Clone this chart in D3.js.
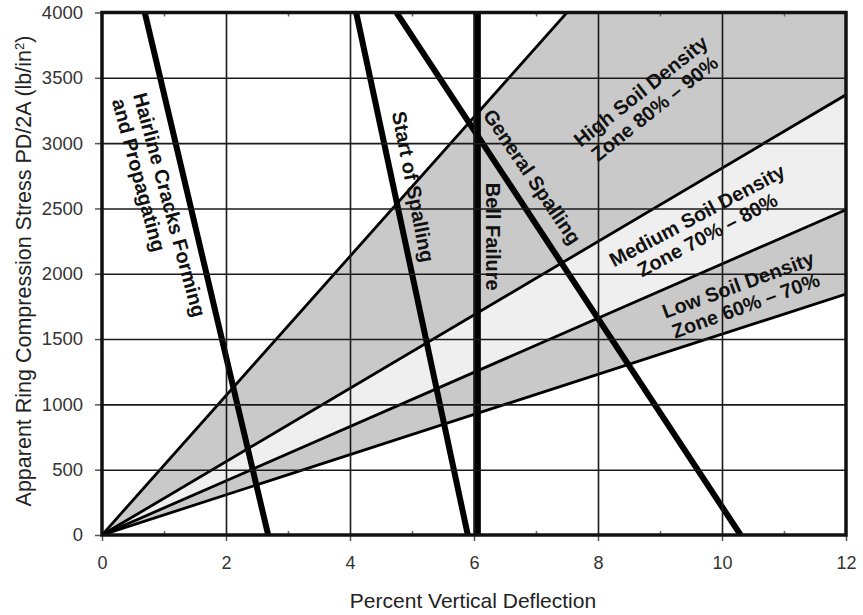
<!DOCTYPE html>
<html>
<head>
<meta charset="utf-8">
<script src="https://cdn.jsdelivr.net/npm/d3@7"></script>
<style>
  body { margin: 0; background: #fff; }
  svg text { font-family: "Liberation Sans", Arial, sans-serif; }
</style>
</head>
<body>
<svg id="chart" width="863" height="615"></svg>
<script>
// axis ticks
var xTicks = [0, 2, 4, 6, 8, 10, 12]
var xMinor = [1, 3, 5, 7, 9, 11]
var yTicks = [0, 500, 1000, 1500, 2000, 2500, 3000, 3500, 4000]

// soil density boundaries: lines from origin, value at 12% deflection
var densityX = [0, 12]
var density90 = [0, 6400]
var density80 = [0, 3370]
var density70 = [0, 2490]
var density60 = [0, 1845]

// failure lines [x, y] end points
var hairline = [[0.69, 4000], [2.68, 0]]
var startSpalling = [[4.1, 4000], [5.9, 0]]
var bellFailure = [[6.05, 4000], [6.05, 0]]
var generalSpalling = [[4.75, 4000], [10.3, 0]]

var svg = d3.select("#chart")

const x = d3.scaleLinear().domain([0, 12]).range([102, 846])
const y = d3.scaleLinear().domain([0, 4000]).range([535, 12.5])

svg.append("defs").append("clipPath").attr("id", "plot")
    .append("rect")
    .attr("x", x(0)).attr("y", y(4000))
    .attr("width", x(12) - x(0)).attr("height", y(0) - y(4000))

const plot = svg.append("g").attr("clip-path", "url(#plot)")

// ZONES
function band(upper, lower) {
    var pts = densityX.map((d, i) => [x(d), y(upper[i])])
    var low = densityX.map((d, i) => [x(d), y(lower[i])]).reverse()
    return pts.concat(low)
}
var zones = [
    { upper: density90, lower: density80, fill: "#c9c9c9" },
    { upper: density80, lower: density70, fill: "#efefef" },
    { upper: density70, lower: density60, fill: "#c9c9c9" }
]
plot.selectAll(".zone")
    .data(zones)
    .enter().append("polygon")
    .attr("points", d => band(d.upper, d.lower).join(" "))
    .style("fill", d => d.fill)

// GRID
svg.append("g")
    .attr("transform", "translate(0," + y(0) + ")")
    .call(d3.axisBottom(x).tickValues(xTicks.slice(1, -1)).tickSize(-(y(0) - y(4000))).tickFormat(""))
    .call(g => g.select(".domain").remove())
    .call(g => g.selectAll("line").attr("stroke", "#1a1a1a").attr("stroke-width", 1.6))

svg.append("g")
    .attr("transform", "translate(" + x(0) + ",0)")
    .call(d3.axisLeft(y).tickValues(yTicks.slice(1, -1)).tickSize(-(x(12) - x(0))).tickFormat(""))
    .call(g => g.select(".domain").remove())
    .call(g => g.selectAll("line").attr("stroke", "#1a1a1a").attr("stroke-width", 1.6))

// density boundary lines
var line = d3.line().x(d => x(d[0])).y(d => y(d[1]))
;[density90, density80, density70, density60].forEach(function (vals) {
    plot.append("path")
        .attr("d", line(densityX.map((d, i) => [d, vals[i]])))
        .attr("fill", "none")
        .attr("stroke", "#000")
        .attr("stroke-width", 2.8)
})

// failure lines
;[hairline, startSpalling, generalSpalling].forEach(function (pts) {
    plot.append("path")
        .attr("d", line(pts))
        .attr("fill", "none")
        .attr("stroke", "#000")
        .attr("stroke-width", 6)
})
plot.append("path")
    .attr("d", line(bellFailure))
    .attr("stroke", "#000")
    .attr("stroke-width", 7.5)

// AXES
var xAxis = svg.append("g")
    .attr("transform", "translate(0," + y(0) + ")")
    .call(d3.axisBottom(x).tickValues(xTicks).tickSize(6).tickPadding(15).tickFormat(d3.format("d")))
xAxis.select(".domain").remove()
xAxis.selectAll("line").attr("stroke", "#555").attr("stroke-width", 1.5)
xAxis.selectAll("text").attr("fill", "#333").style("font-size", "18px")

var yAxis = svg.append("g")
    .attr("transform", "translate(" + x(0) + ",0)")
    .call(d3.axisLeft(y).tickValues(yTicks).tickSize(7).tickPadding(12).tickFormat(d3.format("d")))
yAxis.select(".domain").remove()
yAxis.selectAll("line").attr("stroke", "#555").attr("stroke-width", 1.5)
yAxis.selectAll("text").attr("fill", "#333").style("font-size", "18.5px")

// minor ticks, pointing inward
svg.append("g")
    .attr("transform", "translate(0," + y(0) + ")")
    .call(d3.axisTop(x).tickValues(xMinor).tickSize(4).tickFormat(""))
    .call(g => g.select(".domain").remove())
    .call(g => g.selectAll("line").attr("stroke", "#666").attr("stroke-width", 1.5))
svg.append("g")
    .attr("transform", "translate(0," + y(4000) + ")")
    .call(d3.axisBottom(x).tickValues(xMinor).tickSize(4).tickFormat(""))
    .call(g => g.select(".domain").remove())
    .call(g => g.selectAll("line").attr("stroke", "#666").attr("stroke-width", 1.5))

// frame
svg.append("rect")
    .attr("x", x(0)).attr("y", y(4000))
    .attr("width", x(12) - x(0)).attr("height", y(0) - y(4000))
    .attr("fill", "none")
    .attr("stroke", "#111")
    .attr("stroke-width", 3.5)

// AXIS TITLES
svg.append("text")
    .attr("x", x(6) - 1).attr("y", 608)
    .attr("text-anchor", "middle")
    .style("font-size", "21px")
    .attr("fill", "#222")
    .text("Percent Vertical Deflection")

var yTitle = svg.append("text")
    .attr("transform", "translate(31," + 271 + ") rotate(-90)")
    .attr("text-anchor", "middle")
    .style("font-size", "21.5px")
    .attr("fill", "#222")
yTitle.append("tspan").text("Apparent Ring Compression Stress PD/2A (lb/in")
yTitle.append("tspan").attr("baseline-shift", "super").style("font-size", "13px").text("2")
yTitle.append("tspan").text(")")

// ANNOTATIONS
function label(px, py, angle, lines, anchor) {
    var g = svg.append("g")
        .attr("transform", "translate(" + x(px) + "," + y(py) + ") rotate(" + angle + ")")
    var off = anchor == "start" ? 0 : -(lines.length - 1) * 11
    lines.forEach(function (t, i) {
        g.append("text")
            .attr("x", 0).attr("y", off + i * 22)
            .attr("text-anchor", anchor)
            .attr("dominant-baseline", "central")
            .style("font-size", "20px")
            .style("font-weight", "bold")
            .attr("fill", "#111")
            .text(t)
    })
}
label(0.61, 3382, 75, ["Hairline Cracks Forming", "and Propagating"], "start")
label(5.02, 2666, 79, ["Start of Spalling"], "middle")
label(6.31, 2284, 90, ["Bell Failure"], "middle")
label(6.94, 2743, 56, ["General Spalling"], "middle")
label(8.80, 3332, -38.5, ["High Soil Density", "Zone 80% \u2013 90%"], "middle")
label(9.68, 2372, -28, ["Medium Soil Density", "Zone 70% \u2013 80%"], "middle")
label(10.32, 1836, -20, ["Low Soil Density", "Zone 60% \u2013 70%"], "middle")
</script>
</body>
</html>
